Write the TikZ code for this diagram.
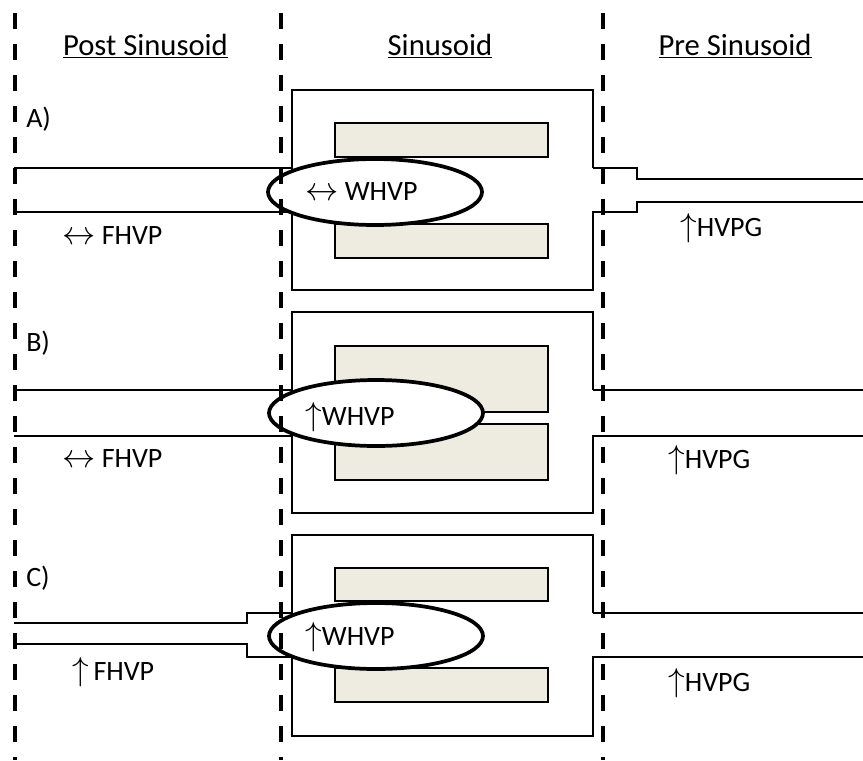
\documentclass[tikz,border=0pt]{standalone}
\usepackage{fontspec}
\setmainfont{Carlito}
\usepackage{tikz}
\usetikzlibrary{shapes.geometric}
\usepackage{xcolor}
\definecolor{cellfill}{HTML}{EEECE1}
\newcommand{\both}{{\fontsize{27}{28}\selectfont$\leftrightarrow$}}
\newcommand{\rise}{{\fontsize{23}{24}\selectfont$\uparrow$}}

\begin{document}
\begin{tikzpicture}[x=0.75pt, y=-0.75pt]
    \tikzstyle{divider} = [line width=2.6pt, dash pattern=on 12pt off 11.25pt]
    \tikzstyle{wall} = [line width=1.9pt]
    \tikzstyle{cell} = [draw, line width=1.9pt, fill=cellfill]
    \tikzstyle{wedge} = [draw, ellipse, line width=2.8pt, fill=white, minimum width=160.5pt, minimum height=49.5pt]
    \tikzstyle{heading} = [font=\fontsize{23}{26}\selectfont, anchor=base, inner sep=0pt]
    \tikzstyle{lbl} = [font=\fontsize{21}{24}\selectfont, anchor=west, inner sep=0pt]
    \useasboundingbox (0,0) rectangle (863,760);
    \node [heading] at (145.5,55) (post) {\underline{Post Sinusoid}};
    \node [heading] at (440,55) (sin) {\underline{Sinusoid}};
    \node [heading] at (735,55) (pre) {\underline{Pre Sinusoid}};
    % A
    \draw[wall] (593,168) -- (593,90) -- (292,90) -- (292,290) -- (593,290) -- (593,212) -- (637,212) -- (637,202) -- (863,202);
    \draw[wall] (593,168) -- (637,168) -- (637,179) -- (863,179);
    \draw[wall] (14,168) -- (292,168);
    \draw[wall] (14,212) -- (292,212);
    \draw[cell] (335,123) rectangle (548,157);
    \draw[cell] (335,224) rectangle (548,258);
    \node [wedge] at (375,192) (whvpA) {};
    \node [lbl] at (26,119) (tagA) {A)};
    \node [lbl] at (62,236) (fhvpA) {\both{} FHVP};
    \node [lbl] at (305,192) (whvpAtext) {\both{} WHVP};
    \node [lbl] at (680,228) (hvpgA) {\rise HVPG};
    % B
    \draw[wall] (593,390) -- (593,312) -- (292,312) -- (292,513) -- (593,513) -- (593,436) -- (863,436);
    \draw[wall] (593,390) -- (863,390);
    \draw[wall] (14,390) -- (292,390);
    \draw[wall] (14,436) -- (292,436);
    \draw[cell] (335,346) rectangle (548,412);
    \draw[cell] (335,424) rectangle (548,480);
    \node [wedge] at (376,413) (whvpB) {};
    \node [lbl] at (26,343) (tagB) {B)};
    \node [lbl] at (62,459) (fhvpB) {\both{} FHVP};
    \node [lbl] at (305,417) (whvpBtext) {\rise WHVP};
    \node [lbl] at (668,460) (hvpgB) {\rise HVPG};
    % C
    \draw[wall] (593,613) -- (593,535) -- (292,535) -- (292,736) -- (593,736) -- (593,657) -- (863,657);
    \draw[wall] (593,613) -- (863,613);
    \draw[wall] (14,623) -- (247,623) -- (247,613) -- (292,613);
    \draw[wall] (14,644) -- (247,644) -- (247,657) -- (292,657);
    \draw[cell] (335,568) rectangle (548,601);
    \draw[cell] (335,668) rectangle (548,702);
    \node [wedge] at (376,636) (whvpC) {};
    \node [lbl] at (26,578) (tagC) {C)};
    \node [lbl] at (72,672) (fhvpC) {\rise\,FHVP};
    \node [lbl] at (305,637) (whvpCtext) {\rise WHVP};
    \node [lbl] at (668,683) (hvpgC) {\rise HVPG};
    \draw[divider] (15,13) -- (15,760);
    \draw[divider] (281,13) -- (281,760);
    \draw[divider] (603,13) -- (603,760);
\end{tikzpicture}
\end{document}
